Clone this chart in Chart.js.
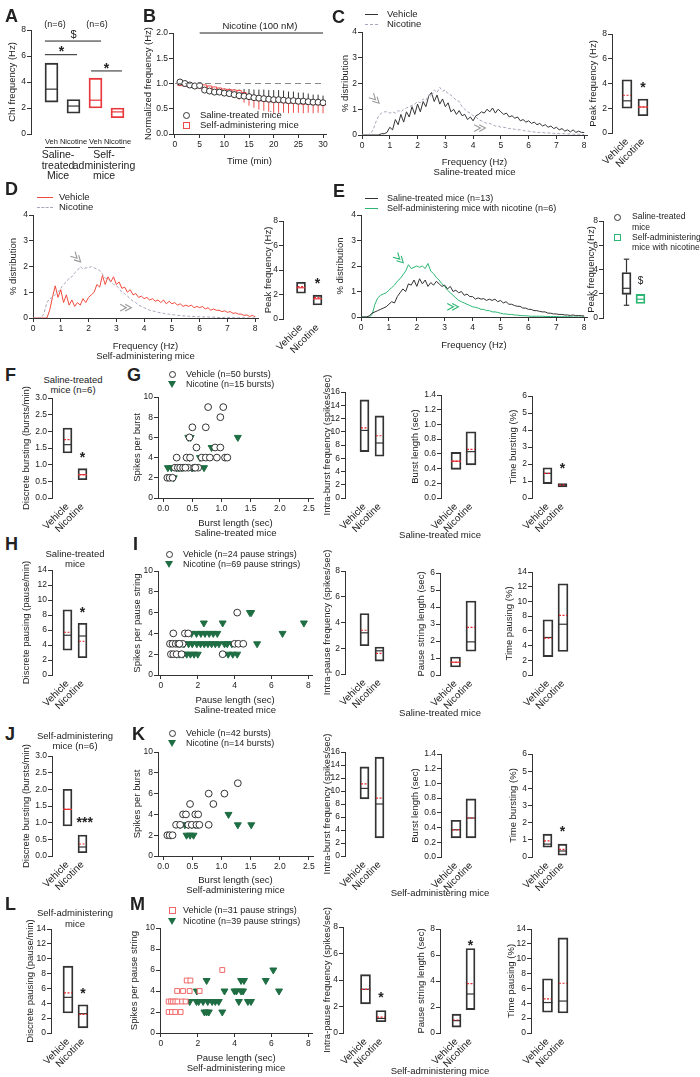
<!DOCTYPE html>
<html>
<head>
<meta charset="utf-8">
<script src="https://cdn.jsdelivr.net/npm/chart.js@4.4.1/dist/chart.umd.min.js"></script>
<style>
  body { margin: 0; background: #fff; }
  #page { position: relative; width: 700px; height: 1077px; overflow: hidden; font-family: "Liberation Sans", Arial, sans-serif; color: #222; }
  #page canvas { position: absolute; }
  .t { position: absolute; white-space: nowrap; }
</style>
</head>
<body>
<div id="page"></div>
<script>
// ---------- data ----------
const GROUPS = ['Vehicle', 'Nicotine'];

// A: ChI frequency
const A_LABELS = ['Veh', 'Nicotine', 'Veh', 'Nicotine'];
const A_LO = [2.45, 1.6, 2.0, 1.25];
const A_HI = [5.45, 2.65, 4.3, 2.0];
const A_MED = [3.45, 2.15, 2.6, 1.7];
const A_TICKS = [0, 2, 4, 6, 8];

// B: normalized frequency over time
const B_TIME = [1, 2, 3, 4, 5, 6, 7, 8, 9, 10, 11, 12, 13, 14, 15, 16, 17, 18, 19, 20, 21, 22, 23, 24, 25, 26, 27, 28, 29, 30];
const B_SAL = [1.03, 1.0, 0.97, 0.95, 0.96, 0.87, 0.85, 0.83, 0.83, 0.81, 0.8, 0.78, 0.76, 0.75, 0.74, 0.72, 0.71, 0.7, 0.69, 0.68, 0.68, 0.67, 0.66, 0.66, 0.65, 0.65, 0.64, 0.63, 0.63, 0.62];
const B_SAL_SEM = [0.02, 0.02, 0.03, 0.03, 0.04, 0.05, 0.06, 0.07, 0.08, 0.09, 0.1, 0.11, 0.12, 0.14, 0.15, 0.16, 0.17, 0.18, 0.18, 0.19, 0.19, 0.19, 0.18, 0.18, 0.17, 0.17, 0.16, 0.15, 0.15, 0.14];
const B_SELF = [1.0, 0.99, 0.97, 0.96, 0.95, 0.93, 0.91, 0.89, 0.87, 0.85, 0.84, 0.83, 0.82, 0.78, 0.74, 0.72, 0.7, 0.69, 0.68, 0.67, 0.67, 0.66, 0.65, 0.65, 0.64, 0.63, 0.63, 0.62, 0.62, 0.61];
const B_SELF_SEM = [0.02, 0.02, 0.03, 0.03, 0.04, 0.05, 0.06, 0.07, 0.08, 0.09, 0.1, 0.12, 0.14, 0.16, 0.18, 0.2, 0.22, 0.23, 0.24, 0.25, 0.25, 0.24, 0.24, 0.23, 0.22, 0.22, 0.21, 0.21, 0.2, 0.2];
const B_XTICKS = [0, 5, 10, 15, 20, 25, 30];
const B_YTICKS = [0, 0.5, 1.0, 1.5, 2.0];

// C/D/E: frequency distributions (% per 0.1 Hz bin)
const FREQ = [0, 0.1, 0.2, 0.3, 0.4, 0.5, 0.6, 0.7, 0.8, 0.9, 1, 1.1, 1.2, 1.3, 1.4, 1.5, 1.6, 1.7, 1.8, 1.9,
  2, 2.1, 2.2, 2.3, 2.4, 2.5, 2.6, 2.7, 2.8, 2.9, 3, 3.1, 3.2, 3.3, 3.4, 3.5, 3.6, 3.7, 3.8, 3.9,
  4, 4.1, 4.2, 4.3, 4.4, 4.5, 4.6, 4.7, 4.8, 4.9, 5, 5.1, 5.2, 5.3, 5.4, 5.5, 5.6, 5.7, 5.8, 5.9,
  6, 6.1, 6.2, 6.3, 6.4, 6.5, 6.6, 6.7, 6.8, 6.9, 7, 7.1, 7.2, 7.3, 7.4, 7.5, 7.6, 7.7, 7.8, 7.9, 8];
const C_VEH = [0, 0, 0, 0, 0, 0, 0, 0.05, 0.05, 0.1, 0.3, 0.2, 0.6, 0.4, 0.8, 0.5, 0.9, 0.7, 1.1, 0.8,
  1.2, 0.9, 1.3, 1.1, 1.5, 1.65, 1.3, 1.55, 1.2, 1.4, 1.1, 1.25, 0.9, 1.0, 0.8, 0.95, 0.75, 0.8, 0.6, 0.7,
  0.55, 0.75, 0.8, 0.9, 0.85, 1.0, 0.9, 1.05, 0.85, 1.0, 0.9, 0.8, 0.85, 0.7, 0.75, 0.65, 0.7, 0.55, 0.6, 0.5,
  0.55, 0.45, 0.5, 0.4, 0.45, 0.35, 0.4, 0.3, 0.35, 0.25, 0.3, 0.2, 0.25, 0.15, 0.2, 0.12, 0.2, 0.1, 0.15, 0.1, 0.1];
const C_NIC = [0, 0, 0, 0.05, 0.2, 0.5, 0.75, 0.85, 0.9, 0.9, 0.85, 0.9, 0.85, 0.95, 0.9, 1.0, 1.05, 1.1, 1.15, 1.2,
  1.3, 1.25, 1.4, 1.35, 1.55, 1.5, 1.75, 1.65, 1.85, 1.7, 1.75, 1.6, 1.55, 1.45, 1.35, 1.3, 1.1, 1.0, 0.9, 0.85,
  0.75, 0.7, 0.6, 0.55, 0.5, 0.45, 0.45, 0.4, 0.35, 0.35, 0.3, 0.3, 0.28, 0.25, 0.25, 0.22, 0.2, 0.2, 0.18, 0.15,
  0.15, 0.12, 0.12, 0.1, 0.1, 0.1, 0.08, 0.08, 0.08, 0.06, 0.06, 0.05, 0.05, 0.05, 0.04, 0.04, 0.03, 0.03, 0.03, 0.02, 0.02];
const D_VEH = [0, 0, 0, 0, 0, 0, 0.3, 0.8, 1.25, 0.8, 1.1, 0.6, 0.9, 0.5, 0.7, 0.45, 0.6, 0.5, 0.75, 0.6,
  0.8, 0.9, 1.0, 1.3, 1.2, 1.65, 1.3, 1.6, 1.4, 1.6, 1.3, 1.4, 1.15, 1.2, 1.0, 1.1, 0.9, 0.95, 0.8, 0.85,
  0.75, 0.8, 0.7, 0.75, 0.65, 0.7, 0.6, 0.7, 0.55, 0.65, 0.55, 0.6, 0.5, 0.55, 0.45, 0.5, 0.45, 0.5, 0.4, 0.45,
  0.4, 0.45, 0.35, 0.4, 0.3, 0.35, 0.3, 0.3, 0.25, 0.28, 0.22, 0.25, 0.18, 0.2, 0.15, 0.15, 0.1, 0.12, 0.06, 0.1, 0.05];
const D_NIC = [0, 0, 0, 0, 0.2, 0.6, 0.75, 0.8, 0.9, 1.0, 1.15, 1.3, 1.4, 1.55, 1.6, 1.75, 1.85, 2.0, 1.9, 1.95,
  1.95, 2.0, 1.95, 1.9, 1.85, 1.7, 1.55, 1.5, 1.4, 1.3, 1.25, 1.15, 1.0, 0.95, 0.85, 0.75, 0.65, 0.6, 0.5, 0.45,
  0.4, 0.35, 0.3, 0.28, 0.25, 0.22, 0.2, 0.18, 0.15, 0.15, 0.13, 0.12, 0.1, 0.1, 0.08, 0.08, 0.07, 0.06, 0.06, 0.05,
  0.05, 0.04, 0.04, 0.04, 0.03, 0.03, 0.03, 0.02, 0.02, 0.02, 0.02, 0.02, 0.01, 0.01, 0.01, 0.01, 0.01, 0, 0, 0, 0];
const E_SAL = [0, 0, 0, 0.05, 0.15, 0.2, 0.25, 0.3, 0.35, 0.4, 0.5, 0.6, 0.55, 0.8, 0.95, 1.1, 1.0, 1.3, 1.25, 1.45,
  1.2, 1.5, 1.3, 1.45, 1.2, 1.35, 1.25, 1.4, 1.3, 1.2, 1.25, 1.1, 1.2, 1.0, 1.05, 0.95, 1.0, 0.85, 0.9, 0.8,
  0.8, 0.7, 0.75, 0.7, 0.72, 0.65, 0.7, 0.65, 0.7, 0.6, 0.65, 0.55, 0.6, 0.5, 0.5, 0.45, 0.42, 0.42, 0.35, 0.35,
  0.3, 0.3, 0.25, 0.25, 0.22, 0.2, 0.2, 0.15, 0.15, 0.12, 0.12, 0.1, 0.1, 0.08, 0.08, 0.06, 0.08, 0.05, 0.06, 0.05, 0.04];
const E_NIC = [0, 0, 0, 0, 0.1, 0.5, 0.75, 0.85, 0.9, 0.95, 1.05, 1.15, 1.25, 1.4, 1.5, 1.65, 1.8, 2.05, 1.9, 1.95,
  2.0, 1.95, 2.0, 1.9, 2.1, 1.8, 1.7, 1.55, 1.45, 1.3, 1.2, 1.05, 0.95, 0.85, 0.75, 0.65, 0.6, 0.55, 0.5, 0.45,
  0.4, 0.38, 0.35, 0.3, 0.3, 0.25, 0.25, 0.2, 0.2, 0.18, 0.15, 0.12, 0.12, 0.1, 0.1, 0.08, 0.07, 0.06, 0.05, 0.05,
  0.04, 0.03, 0.03, 0.03, 0.03, 0.03, 0.02, 0.02, 0.02, 0.02, 0.02, 0.01, 0.01, 0.01, 0.01, 0.01, 0, 0, 0, 0, 0];
const DIST_XTICKS = [0, 1, 2, 3, 4, 5, 6, 7, 8];
const DIST_YTICKS = [0, 1, 2, 3, 4];

// peak frequency boxes (C, D, E)
const CP_LO = [2.0, 1.4], CP_HI = [4.3, 2.75], CP_MED = [2.6, 2.1], CP_MEAN = [3.05, 2.1];
const DP_LO = [2.1, 1.15], DP_HI = [3.0, 1.95], DP_MED = [2.55, 1.65], DP_MEAN = [2.65, 1.75];
const EP_LO = [1.95, 1.2], EP_HI = [3.75, 1.95], EP_MED = [2.45, 1.55], EP_WLO = [1.05], EP_WHI = [4.85];
const PEAK_TICKS = [0, 2, 4, 6, 8];

// F-G: bursting, saline-treated
const F_LO = [1.35, 0.55], F_HI = [2.1, 0.88], F_MED = [1.6, 0.7], F_MEAN = [1.75, 0.7];
const G_VEH_X = [0.07, 0.11, 0.16, 0.2, 0.25, 0.29, 0.34, 0.43, 0.53, 0.6, 0.23, 0.4, 0.46, 0.66, 0.73, 0.8, 0.92, 1.06, 1.1, 0.45, 0.57, 0.89, 0.98, 0.5, 0.73, 0.77, 0.98, 1.03, 0.38, 0.55];
const G_VEH_Y = [2, 2, 2, 3, 3, 3, 3, 3, 3, 3, 4, 4, 4, 4, 4, 4, 4, 4, 4, 6, 5, 5, 5, 7, 7, 9, 8, 9, 3, 3];
const G_NIC_X = [0.08, 0.14, 0.18, 0.23, 0.32, 0.45, 0.47, 0.49, 0.63, 0.7, 0.83, 1.28, 0.27, 0.43, 0.5];
const G_NIC_Y = [3, 3, 2, 3, 3, 4, 6, 3, 4, 3, 5, 6, 3, 6, 3];
const G2_LO = [7.0, 6.3], G2_HI = [14.8, 12.4], G2_MED = [10.2, 8.3], G2_MEAN = [10.6, 9.4];
const G3_LO = [0.39, 0.45], G3_HI = [0.62, 0.9], G3_MED = [0.5, 0.63], G3_MEAN = [0.5, 0.66];
const G4_LO = [0.85, 0.65], G4_HI = [1.78, 0.85], G4_MED = [1.45, 0.72], G4_MEAN = [1.45, 0.76];

// H-I: pausing, saline-treated
const H_LO = [3.3, 2.3], H_HI = [8.7, 6.9], H_MED = [5.3, 5.2], H_MEAN = [5.7, 4.5];
const I_VEH_X = [0.67, 1.3, 1.48, 0.49, 0.63, 0.8, 0.94, 1.18, 4.0, 4.2, 4.47, 0.54, 0.67, 0.85, 1.12, 3.35, 4.14, 1.0];
const I_VEH_Y = [4, 4, 4, 3, 3, 3, 3, 3, 3, 3, 3, 2, 2, 2, 2, 2, 6, 3];
const I_NIC_X = [1.66, 1.93, 2.17, 2.39, 2.62, 2.84, 3.06, 6.6, 1.03, 1.25, 1.5, 1.7, 1.95, 2.15, 2.35, 2.55, 2.75, 2.95, 3.15, 3.45, 3.6, 3.85, 5.22, 0.85, 1.0, 1.2, 1.4, 1.6, 1.8, 2.0, 3.65, 3.9, 4.14, 2.33, 3.35, 7.76, 4.83, 4.9];
const I_NIC_Y = [4, 4, 4, 4, 4, 4, 4, 4, 3, 3, 3, 3, 3, 3, 3, 3, 3, 3, 3, 3, 3, 3, 3, 2, 2, 2, 2, 2, 2, 2, 2, 2, 2, 5, 5, 5, 6, 6];
const I2_LO = [2.2, 1.0], I2_HI = [4.7, 2.1], I2_MED = [3.2, 1.8], I2_MEAN = [3.4, 1.6];
const I3_LO = [0.47, 1.4], I3_HI = [1.06, 4.35], I3_MED = [0.75, 1.95], I3_MEAN = [0.75, 2.8];
const I4_LO = [2.5, 3.2], I4_HI = [7.5, 12.4], I4_MED = [5.1, 6.9], I4_MEAN = [5.0, 8.1];

// J-K: bursting, self-administering
const J_LO = [0.9, 0.1], J_HI = [2.0, 0.63], J_MED = [1.4, 0.27], J_MEAN = [1.4, 0.36];
const K_VEH_X = [0.07, 0.11, 0.16, 0.22, 0.29, 0.34, 0.39, 0.46, 0.43, 0.49, 0.57, 0.62, 0.55, 0.6, 0.78, 0.78, 0.86, 1.05, 1.28];
const K_VEH_Y = [2, 2, 2, 3, 3, 4, 4, 5, 3, 3, 3, 3, 4, 4, 3, 6, 5, 6, 7];
const K_NIC_X = [0.13, 0.29, 0.37, 0.43, 0.49, 0.55, 0.6, 0.4, 0.46, 0.52, 1.12, 1.28, 1.51];
const K_NIC_Y = [2, 3, 3, 3, 3, 3, 3, 2, 2, 2, 4, 3, 3];
const K2_LO = [8.8, 2.8], K2_HI = [13.7, 15.2], K2_MED = [10.4, 8.0], K2_MEAN = [11.1, 8.9];
const K3_LO = [0.26, 0.26], K3_HI = [0.5, 0.79], K3_MED = [0.37, 0.53], K3_MEAN = [0.37, 0.53];
const K4_LO = [0.57, 0.1], K4_HI = [1.33, 0.75], K4_MED = [0.75, 0.35], K4_MEAN = [0.94, 0.45];

// L-M: pausing, self-administering
const L_LO = [2.7, 0.7], L_HI = [9.0, 3.8], L_MED = [4.8, 2.6], L_MEAN = [5.4, 2.5];
const M_VEH_X = [0.42, 0.6, 0.78, 1.07, 0.42, 0.55, 0.66, 0.78, 0.9, 1.15, 1.34, 0.88, 1.2, 1.56, 2.1, 1.4, 1.6, 3.33];
const M_VEH_Y = [2, 2, 2, 2, 3, 3, 3, 3, 3, 3, 3, 4, 4, 4, 4, 5, 5, 6];
const M_NIC_X = [1.56, 1.93, 2.05, 2.29, 2.54, 2.78, 2.95, 3.14, 4.23, 4.72, 4.89, 1.95, 3.45, 3.99, 4.1, 4.35, 4.46, 6.41, 2.36, 2.48, 2.6, 3.33, 2.48, 4.35, 4.51, 5.69, 6.1];
const M_NIC_Y = [3, 3, 3, 3, 3, 3, 3, 3, 3, 3, 3, 4, 4, 4, 4, 4, 4, 4, 2, 2, 2, 2, 5, 5, 5, 5, 6];
const M2_LO = [2.2, 0.85], M2_HI = [4.4, 1.7], M2_MED = [3.3, 1.1], M2_MEAN = [3.3, 1.2];
const M3_LO = [0.45, 1.8], M3_HI = [1.45, 6.5], M3_MED = [0.95, 3.0], M3_MEAN = [1.0, 3.8];
const M4_LO = [2.8, 2.7], M4_HI = [7.3, 12.8], M4_MED = [4.1, 4.3], M4_MEAN = [4.6, 6.7];

// tick sets
const T_BURST = [0, 0.5, 1.0, 1.5, 2.0, 2.5, 3.0];
const T_14 = [0, 2, 4, 6, 8, 10, 12, 14];
const T_16 = [0, 2, 4, 6, 8, 10, 12, 14, 16];
const T_10 = [0, 2, 4, 6, 8, 10];
const T_8 = [0, 2, 4, 6, 8];
const T_6 = [0, 1, 2, 3, 4, 5, 6];
const T_14DEC = [0, 0.2, 0.4, 0.6, 0.8, 1.0, 1.2, 1.4];
const T_BLEN = [0.0, 0.5, 1.0, 1.5, 2.0, 2.5];

// ---------- styles ----------
const FONT = '"Liberation Sans", Arial, sans-serif';
const INK = '#333';
const RED = '#e8383d';
const MEANRED = '#e8262b';
const GRAY = '#a6a6bc';
const GREEN = '#2bb673';
const DKGREEN = '#1f6e43';
const TICK_FS = 8.5, TITLE_FS = 9.5, TITLE_LH = 11;

Chart.defaults.font.family = FONT;
Chart.defaults.color = '#222';

const page = document.getElementById('page');

// median / mean / whisker lines on floating bars
const boxLines = {
  id: 'boxLines',
  afterDatasetsDraw(chart, args, o) {
    if (!o || !o.med) return;
    const ctx = chart.ctx, ys = chart.scales.y;
    const els = chart.getDatasetMeta(0).data;
    const seg = (x1, x2, y1, y2, c, dash, w) => {
      ctx.strokeStyle = c; ctx.lineWidth = w || 1.2; ctx.setLineDash(dash || []);
      ctx.beginPath(); ctx.moveTo(x1, y1); ctx.lineTo(x2, y2); ctx.stroke();
    };
    ctx.save();
    els.forEach((el, i) => {
      const hw = el.width / 2;
      if (o.whLo && o.whLo[i] != null) {
        const yl = ys.getPixelForValue(o.whLo[i]), yh = ys.getPixelForValue(o.whHi[i]);
        const ylo = ys.getPixelForValue(o.lo[i]), yhi = ys.getPixelForValue(o.hi[i]);
        seg(el.x, el.x, ylo, yl, INK); seg(el.x, el.x, yhi, yh, INK);
        seg(el.x - hw * 0.6, el.x + hw * 0.6, yl, yl, INK);
        seg(el.x - hw * 0.6, el.x + hw * 0.6, yh, yh, INK);
      }
      const ym = ys.getPixelForValue(o.med[i]);
      seg(el.x - hw, el.x + hw, ym, ym, (o.medCols && o.medCols[i]) || INK);
      if (o.mean) {
        const yb = ys.getPixelForValue(o.mean[i]);
        seg(el.x - hw + 1, el.x + hw - 1, yb, yb, MEANRED, [2, 1.5], 1.2);
      }
    });
    ctx.restore();
  }
};

// text, lines and arrow marks placed in data units
function chevron(ctx, x, y, ang, c) {
  const a = ang * Math.PI / 180, L = 7, sp = 0.5;
  ctx.strokeStyle = c; ctx.lineWidth = 1.1; ctx.setLineDash([]);
  [-2.5, 2.5].forEach(off => {
    const tx = x + Math.cos(a) * off, ty = y + Math.sin(a) * off;
    ctx.beginPath();
    ctx.moveTo(tx - Math.cos(a - sp) * L, ty - Math.sin(a - sp) * L);
    ctx.lineTo(tx, ty);
    ctx.lineTo(tx - Math.cos(a + sp) * L, ty - Math.sin(a + sp) * L);
    ctx.stroke();
  });
}
const notes = {
  id: 'notes',
  afterDraw(chart, args, o) {
    if (!o || !o.items) return;
    const {ctx} = chart, xs = chart.scales.x, ys = chart.scales.y;
    ctx.save();
    o.items.forEach(it => {
      const c = it.c || '#222';
      if (it.k === 'line') {
        const y = ys.getPixelForValue(it.y);
        ctx.strokeStyle = c; ctx.lineWidth = 1; ctx.setLineDash([]);
        ctx.beginPath(); ctx.moveTo(xs.getPixelForValue(it.x1), y); ctx.lineTo(xs.getPixelForValue(it.x2), y); ctx.stroke();
      } else if (it.k === 'text') {
        const size = it.size || 9;
        ctx.font = (it.bold ? 'bold ' : '') + size + 'px ' + FONT;
        ctx.fillStyle = c; ctx.textAlign = 'center'; ctx.textBaseline = 'middle';
        const shift = it.s.indexOf('*') >= 0 ? size * 0.28 : 0;
        ctx.fillText(it.s, xs.getPixelForValue(it.x), ys.getPixelForValue(it.y) + (it.dy || 0) + shift);
      } else if (it.k === 'chev') {
        chevron(ctx, xs.getPixelForValue(it.x), ys.getPixelForValue(it.y), it.a, c);
      }
    });
    ctx.restore();
  }
};

// error bars (one direction) for panel B
const errBars = {
  id: 'errBars',
  beforeDatasetsDraw(chart, args, o) {
    if (!o || !o.sets) return;
    const {ctx} = chart, ys = chart.scales.y;
    ctx.save();
    o.sets.forEach(s => {
      const ds = chart.data.datasets[s.ds];
      chart.getDatasetMeta(s.ds).data.forEach((pt, i) => {
        const y2 = ys.getPixelForValue(ds.data[i].y + s.dir * s.sem[i]);
        ctx.strokeStyle = s.c; ctx.lineWidth = 1;
        ctx.beginPath(); ctx.moveTo(pt.x, pt.y); ctx.lineTo(pt.x, y2); ctx.stroke();
      });
    });
    ctx.restore();
  }
};
Chart.register(boxLines, notes, errBars);

// ---------- layout helpers ----------
// l,t,r,b: chart area on the page; tx: centre of the y title; cb: canvas bottom
function frame(l, t, r, b, tx, cb, pt) {
  pt = pt || 30;
  const cl = Math.round(tx - TITLE_LH / 2);
  const ct = t - pt, pr = 8;
  const cv = document.createElement('canvas');
  cv.width = r - cl + pr; cv.height = cb - ct;
  cv.style.left = cl + 'px'; cv.style.top = ct + 'px';
  cv.style.width = cv.width + 'px'; cv.style.height = cv.height + 'px';
  page.appendChild(cv);
  return {cv, l, r, wy: l - cl, hx: cb - b, pad: {top: pt, right: pr, bottom: 0, left: 0}};
}

function yAxis(f, min, max, ticks, dec, title) {
  return {
    type: 'linear', min, max,
    afterBuildTicks: s => { s.ticks = ticks.map(v => ({value: v})); },
    afterFit: s => { s.width = f.wy; },
    ticks: {font: {size: TICK_FS}, padding: 1, color: '#222', autoSkip: false, callback: v => v.toFixed(dec)},
    grid: {display: true, drawOnChartArea: false, drawTicks: true, tickLength: 4, color: INK},
    border: {display: true, color: INK, width: 1},
    title: {display: !!title, text: title, font: {size: TITLE_FS, lineHeight: TITLE_LH / TITLE_FS}, padding: 0, color: '#222'}
  };
}

function xAxis(f, min, max, ticks, dec, title) {
  return {
    type: 'linear', min, max, offset: false,
    afterBuildTicks: s => { s.ticks = ticks.map(v => ({value: v})); },
    afterFit: s => { s.height = f.hx; },
    ticks: {font: {size: TICK_FS}, padding: 2, color: '#222', autoSkip: false, maxRotation: 0, callback: v => v.toFixed(dec)},
    grid: {display: true, drawOnChartArea: false, drawTicks: true, tickLength: 4, color: INK},
    border: {display: true, color: INK, width: 1},
    title: {display: !!title, text: title, font: {size: TITLE_FS, lineHeight: 10 / TITLE_FS}, padding: 0, color: '#222'}
  };
}

function baseOpts(f, scales, plugins) {
  return {
    responsive: false, animation: false, events: [],
    layout: {padding: f.pad},
    scales,
    plugins: Object.assign({legend: {display: false}, tooltip: {enabled: false}}, plugins)
  };
}

function boxPlot(f, o) {
  const n = o.lo.length;
  const unit = o.centers[1] - o.centers[0];
  const cLast = o.centers[0] + (n - 1) * unit;
  const xMin = 1 - (o.centers[0] - f.l) / unit;
  const xMax = n + (f.r - cLast) / unit;
  const labels = o.labels || [];
  const rot = o.rot == null ? 45 : o.rot;
  const xs = {
    type: 'linear', min: xMin, max: xMax, offset: false,
    afterBuildTicks: s => { s.ticks = labels.map((_, i) => ({value: i + 1})); },
    afterFit: s => { s.height = f.hx; },
    ticks: {display: labels.length > 0, font: {size: o.lfs || 10}, color: '#222', autoSkip: false,
      minRotation: rot, maxRotation: rot, padding: o.lpad || 3, callback: (v, i) => labels[i]},
    grid: {display: false, drawTicks: false},
    border: {display: false}
  };
  new Chart(f.cv, {
    type: 'bar',
    data: {datasets: [{
      data: o.lo.map((v, i) => ({x: i + 1, y: [v, o.hi[i]]})),
      backgroundColor: 'rgba(0,0,0,0)',
      borderColor: o.cols || INK,
      borderWidth: 1.2,
      borderSkipped: false,
      barThickness: o.bw
    }]},
    options: baseOpts(f, {x: xs, y: yAxis(f, o.yMin || 0, o.yMax, o.yTicks, o.dec, o.title)}, {
      boxLines: {lo: o.lo, hi: o.hi, med: o.med, mean: o.mean, medCols: o.medCols, whLo: o.whLo, whHi: o.whHi},
      notes: {items: o.notes || []}
    })
  });
}

const ST_CIRCLE = {pointStyle: 'circle', pointRadius: 3.4, pointBorderColor: INK, pointBackgroundColor: '#fff', pointBorderWidth: 1};
const ST_TRI = {pointStyle: 'triangle', pointRotation: 180, pointRadius: 4, pointBorderColor: DKGREEN, pointBackgroundColor: DKGREEN, pointBorderWidth: 1};
const ST_SQ = {pointStyle: 'rect', pointRadius: 3.4, pointBorderColor: '#f0686a', pointBackgroundColor: '#fff', pointBorderWidth: 1};

function scatterPlot(f, o) {
  new Chart(f.cv, {
    type: 'scatter',
    data: {datasets: o.sets.map(s => Object.assign({data: s.xs.map((x, i) => ({x, y: s.ys[i]}))}, s.st))},
    options: baseOpts(f, {
      x: xAxis(f, o.xMin, o.xMax, o.xTicks, o.xDec, o.xTitle),
      y: yAxis(f, 0, o.yMax, o.yTicks, 0, o.yTitle)
    }, {})
  });
}

function distPlot(f, o) {
  new Chart(f.cv, {
    type: 'line',
    data: {datasets: o.series.map(s => ({
      data: FREQ.map((x, i) => ({x, y: s.v[i]})),
      borderColor: s.c, borderWidth: 1, borderDash: s.dash || [], pointRadius: 0, tension: 0
    }))},
    options: baseOpts(f, {
      x: xAxis(f, 0, 8.1, DIST_XTICKS, 0, o.xTitle),
      y: yAxis(f, 0, 4, DIST_YTICKS, 0, '% distribution')
    }, {notes: {items: o.notes}})
  });
}

// HTML text helpers
function txt(x, y, html, o) {
  o = o || {};
  const d = document.createElement('div');
  d.className = 't';
  d.innerHTML = html;
  const fs = o.fs || 9;
  d.style.fontSize = fs + 'px';
  d.style.lineHeight = (o.lh || fs) + 'px';
  if (o.bold) d.style.fontWeight = 'bold';
  d.style.left = x + 'px'; d.style.top = y + 'px';
  d.style.textAlign = o.center ? 'center' : 'left';
  d.style.transform = 'translate(' + (o.center ? '-50%' : '0') + ',-50%)';
  page.appendChild(d);
}
function letter(x, y, s) { txt(x, y, s, {fs: 18, bold: true}); }
function sym(kind, x, y, c) {
  const d = document.createElement('div');
  d.style.position = 'absolute';
  if (kind === 'o') d.style.cssText += `left:${x - 3.5}px;top:${y - 3.5}px;width:5px;height:5px;border:1px solid ${c};border-radius:50%;`;
  if (kind === 's') d.style.cssText += `left:${x - 3.5}px;top:${y - 3.5}px;width:5px;height:5px;border:1px solid ${c};`;
  if (kind === 'v') d.style.cssText += `left:${x - 4}px;top:${y - 3}px;width:0;height:0;border-left:4px solid transparent;border-right:4px solid transparent;border-top:7px solid ${c};`;
  page.appendChild(d);
}
function hseg(x1, x2, y, c, dashed) {
  const d = document.createElement('div');
  d.style.cssText = `position:absolute;left:${x1}px;top:${y}px;width:${x2 - x1}px;height:0;border-top:1px ${dashed ? 'dashed' : 'solid'} ${c};`;
  page.appendChild(d);
}

// ---------- A ----------
boxPlot(frame(31, 30, 128, 134, 12, 148, 20), {
  lo: A_LO, hi: A_HI, med: A_MED, cols: [INK, INK, RED, RED], medCols: [INK, INK, RED, RED],
  centers: [51.5, 73.5], bw: 13, yMax: 8, yTicks: A_TICKS, dec: 0, title: 'ChI frequency (Hz)',
  labels: A_LABELS, rot: 0, lfs: 7.5, lpad: 3,
  notes: [
    {k: 'line', x1: 0.7, x2: 3.25, y: 7.15}, {k: 'text', x: 2.0, y: 7.15, dy: -6, s: '$', size: 11},
    {k: 'line', x1: 0.7, x2: 2.16, y: 6.1}, {k: 'text', x: 1.45, y: 6.1, dy: -6, s: '*', size: 14, bold: true},
    {k: 'line', x1: 2.8, x2: 4.2, y: 4.85}, {k: 'text', x: 3.5, y: 4.85, dy: -6, s: '*', size: 14, bold: true}
  ]
});
txt(55, 24, '(n=6)', {fs: 9, center: true});
txt(97, 24, '(n=6)', {fs: 9, center: true});
hseg(45, 80, 147, INK); hseg(88, 125, 147, INK);
txt(58, 165, 'Saline-<br>treated<br>Mice', {fs: 10.5, lh: 10.5, center: true});
txt(104, 165, 'Self-<br>administering<br>mice', {fs: 10.5, lh: 10.5, center: true});

// ---------- B ----------
(function () {
  const f = frame(173, 33, 326, 134, 148, 166, 20);
  new Chart(f.cv, {
    type: 'scatter',
    data: {datasets: [
      {data: [{x: 0, y: 1}, {x: 30, y: 1}], showLine: true, borderColor: '#888', borderWidth: 1, borderDash: [6, 4], pointRadius: 0},
      Object.assign({data: B_TIME.map((t, i) => ({x: t, y: B_SAL[i]}))}, ST_CIRCLE, {pointRadius: 3}),
      Object.assign({data: B_TIME.map((t, i) => ({x: t, y: B_SELF[i]}))}, ST_SQ, {pointRadius: 3, pointBorderColor: '#ef4b4b'})
    ]},
    options: baseOpts(f, {
      x: xAxis(f, -0.4, 30.6, B_XTICKS, 0, 'Time (min)'),
      y: yAxis(f, 0, 2, B_YTICKS, 1, 'Normalized frequency (Hz)')
    }, {
      errBars: {sets: [{ds: 1, sem: B_SAL_SEM, dir: 1, c: INK}, {ds: 2, sem: B_SELF_SEM, dir: -1, c: '#ef4b4b'}]},
      notes: {items: [{k: 'line', x1: 5, x2: 30, y: 2.0}, {k: 'text', x: 17.2, y: 2.0, dy: -7, s: 'Nicotine (100 nM)', size: 9.5}]}
    })
  });
})();
sym('o', 186, 115, INK); txt(200, 115, 'Saline-treated mice', {fs: 9.5});
sym('s', 186, 125, '#ef4b4b'); txt(200, 125, 'Self-administering mice', {fs: 9.5});

// ---------- C ----------
distPlot(frame(362, 32, 587, 135, 345, 177, 20), {
  series: [{v: C_NIC, c: GRAY, dash: [3, 2]}, {v: C_VEH, c: INK}],
  xTitle: ['Frequency (Hz)', 'Saline-treated mice'],
  notes: [{k: 'chev', x: 0.55, y: 1.3, a: 45, c: '#999'}, {k: 'chev', x: 4.35, y: 0.27, a: 0, c: '#999'}]
});
hseg(365, 378, 14, INK); txt(387, 14, 'Vehicle', {fs: 9.5});
hseg(365, 378, 24, GRAY, true); txt(387, 24, 'Nicotine', {fs: 9.5});
boxPlot(frame(612, 34, 655, 133, 593, 183, 20), {
  lo: CP_LO, hi: CP_HI, med: CP_MED, mean: CP_MEAN, medCols: [INK, RED],
  centers: [627, 643], bw: 10, yMax: 8, yTicks: PEAK_TICKS, dec: 0, title: 'Peak frequency (Hz)', labels: GROUPS,
  notes: [{k: 'text', x: 2, y: 3.95, s: '*', size: 14, bold: true}]
});

// ---------- D ----------
distPlot(frame(33, 215, 258, 318, 13, 361), {
  series: [{v: D_NIC, c: GRAY, dash: [3, 2]}, {v: D_VEH, c: '#f04a3c'}],
  xTitle: ['Frequency (Hz)', 'Self-administering mice'],
  notes: [{k: 'chev', x: 1.65, y: 2.25, a: 45, c: '#999'}, {k: 'chev', x: 3.45, y: 0.4, a: 0, c: '#999'}]
});
hseg(37, 53, 197, '#f04a3c'); txt(59, 197, 'Vehicle', {fs: 9.5});
hseg(37, 53, 207, GRAY, true); txt(59, 207, 'Nicotine', {fs: 9.5});
boxPlot(frame(283, 221, 326, 319, 268, 369), {
  lo: DP_LO, hi: DP_HI, med: DP_MED, mean: DP_MEAN, medCols: [RED, RED],
  centers: [301, 317.5], bw: 9, yMax: 8, yTicks: PEAK_TICKS, dec: 0, title: 'Peak frequency (Hz)', labels: GROUPS,
  notes: [{k: 'text', x: 2, y: 3.2, s: '*', size: 14, bold: true}]
});

// ---------- E ----------
distPlot(frame(361, 215, 587, 317, 340, 350), {
  series: [{v: E_SAL, c: INK}, {v: E_NIC, c: GREEN}],
  xTitle: 'Frequency (Hz)',
  notes: [{k: 'chev', x: 1.45, y: 2.2, a: 45, c: GREEN}, {k: 'chev', x: 3.4, y: 0.4, a: 0, c: GREEN}]
});
hseg(365, 378, 198, INK); txt(387, 198, 'Saline-treated mice (n=13)', {fs: 9});
hseg(365, 378, 208, GREEN); txt(387, 208, 'Self-administering mice with nicotine (n=6)', {fs: 9});
boxPlot(frame(603, 221, 650, 318, 591, 330), {
  lo: EP_LO, hi: EP_HI, med: EP_MED, whLo: EP_WLO, whHi: EP_WHI, cols: [INK, GREEN], medCols: [INK, GREEN],
  centers: [626.5, 640.5], bw: 9, yMax: 8, yTicks: PEAK_TICKS, dec: 0, title: 'Peak frequency (Hz)', labels: [],
  notes: [{k: 'text', x: 2, y: 3.0, s: '$', size: 10}]
});
sym('o', 617, 217, INK); txt(632, 222, 'Saline-treated<br>mice', {fs: 8.6, lh: 11});
sym('s', 617, 237, GREEN); txt(632, 242, 'Self-administering<br>mice with nicotine', {fs: 8.6, lh: 10});

// ---------- F / G ----------
letter(5, 375, 'F'); letter(127, 375, 'G');
txt(73, 385, 'Saline-treated<br>mice (n=6)', {fs: 9.5, lh: 10, center: true});
boxPlot(frame(52, 398, 92, 498, 26, 548), {
  lo: F_LO, hi: F_HI, med: F_MED, mean: F_MEAN, medCols: [INK, RED],
  centers: [67.5, 82.5], bw: 9, yMax: 3, yTicks: T_BURST, dec: 1, title: 'Discrete bursting (bursts/min)', labels: GROUPS,
  notes: [{k: 'text', x: 2, y: 1.3, s: '*', size: 14, bold: true}]
});
scatterPlot(frame(158, 397, 313, 498, 137, 538), {
  sets: [{xs: G_VEH_X, ys: G_VEH_Y, st: ST_CIRCLE}, {xs: G_NIC_X, ys: G_NIC_Y, st: ST_TRI}],
  xMin: -0.09, xMax: 2.57, xTicks: T_BLEN, xDec: 1, xTitle: ['Burst length (sec)', 'Saline-treated mice'],
  yMax: 10, yTicks: T_10, yTitle: 'Spikes per burst'
});
sym('o', 172, 374, INK); txt(186, 374, 'Vehicle (n=50 bursts)', {fs: 9});
sym('v', 172, 384, DKGREEN); txt(186, 384, 'Nicotine (n=15 bursts)', {fs: 9});
boxPlot(frame(345, 392, 390, 498, 327, 548), {
  lo: G2_LO, hi: G2_HI, med: G2_MED, mean: G2_MEAN,
  centers: [364.5, 379.5], bw: 9, yMax: 16, yTicks: T_16, dec: 0, title: 'Intra-burst frequency (spikes/sec)', labels: GROUPS
});
boxPlot(frame(441, 395, 482, 498, 415, 548), {
  lo: G3_LO, hi: G3_HI, med: G3_MED, mean: G3_MEAN, medCols: [RED, INK],
  centers: [456, 471], bw: 10, yMax: 1.4, yTicks: T_14DEC, dec: 1, title: 'Burst length (sec)', labels: GROUPS
});
boxPlot(frame(532, 396, 573, 498, 513, 548), {
  lo: G4_LO, hi: G4_HI, med: G4_MED, mean: G4_MEAN,
  centers: [547.5, 562.5], bw: 9, yMax: 6, yTicks: T_6, dec: 0, title: 'Time bursting (%)', labels: GROUPS,
  notes: [{k: 'text', x: 2, y: 1.9, s: '*', size: 14, bold: true}]
});
txt(440, 535, 'Saline-treated mice', {fs: 9.5, center: true});

// ---------- H / I ----------
letter(5, 544, 'H'); letter(133, 544, 'I');
txt(75, 559, 'Saline-treated<br>mice', {fs: 9.5, lh: 10, center: true});
boxPlot(frame(52, 570, 92, 675, 26, 725), {
  lo: H_LO, hi: H_HI, med: H_MED, mean: H_MEAN,
  centers: [67.5, 82.5], bw: 9, yMax: 14, yTicks: T_14, dec: 0, title: 'Discrete pausing (pause/min)', labels: GROUPS,
  notes: [{k: 'text', x: 2, y: 8.8, s: '*', size: 14, bold: true}]
});
scatterPlot(frame(158, 571, 312, 675, 137, 715), {
  sets: [{xs: I_VEH_X, ys: I_VEH_Y, st: ST_CIRCLE}, {xs: I_NIC_X, ys: I_NIC_Y, st: ST_TRI}],
  xMin: -0.16, xMax: 8.2, xTicks: T_8, xDec: 0, xTitle: ['Pause length (sec)', 'Saline-treated mice'],
  yMax: 10, yTicks: T_10, yTitle: 'Spikes per pause string'
});
sym('o', 169, 554, INK); txt(183, 554, 'Vehicle (n=24 pause strings)', {fs: 9});
sym('v', 169, 564, DKGREEN); txt(183, 564, 'Nicotine (n=69 pause strings)', {fs: 9});
boxPlot(frame(345, 571, 390, 674, 327, 724), {
  lo: I2_LO, hi: I2_HI, med: I2_MED, mean: I2_MEAN,
  centers: [364.5, 379.5], bw: 9, yMax: 8, yTicks: T_8, dec: 0, title: 'Intra-pause frequency (spikes/sec)', labels: GROUPS
});
boxPlot(frame(440, 573, 482, 675, 421, 725), {
  lo: I3_LO, hi: I3_HI, med: I3_MED, mean: I3_MEAN, medCols: [RED, INK],
  centers: [455.5, 471], bw: 10, yMax: 6, yTicks: T_6, dec: 0, title: 'Pause string length (sec)', labels: GROUPS
});
boxPlot(frame(532, 572, 573, 675, 509, 725), {
  lo: I4_LO, hi: I4_HI, med: I4_MED, mean: I4_MEAN,
  centers: [548, 563], bw: 10, yMax: 14, yTicks: T_14, dec: 0, title: 'Time pausing (%)', labels: GROUPS
});
txt(440, 713, 'Saline-treated mice', {fs: 9.5, center: true});

// ---------- J / K ----------
letter(5, 734, 'J'); letter(132, 734, 'K');
txt(75, 741, 'Self-administering<br>mice (n=6)', {fs: 9.5, lh: 10, center: true});
boxPlot(frame(52, 756, 92, 856, 26, 906), {
  lo: J_LO, hi: J_HI, med: J_MED, mean: J_MEAN, medCols: [RED, INK],
  centers: [67.5, 82.5], bw: 9, yMax: 3, yTicks: T_BURST, dec: 1, title: 'Discrete bursting (bursts/min)', labels: GROUPS,
  notes: [{k: 'text', x: 2.15, y: 1.1, s: '***', size: 14, bold: true}]
});
scatterPlot(frame(158, 752, 313, 856, 137, 895), {
  sets: [{xs: K_VEH_X, ys: K_VEH_Y, st: ST_CIRCLE}, {xs: K_NIC_X, ys: K_NIC_Y, st: ST_TRI}],
  xMin: -0.09, xMax: 2.57, xTicks: T_BLEN, xDec: 1, xTitle: ['Burst length (sec)', 'Self-administering mice'],
  yMax: 10, yTicks: T_10, yTitle: 'Spikes per burst'
});
sym('o', 172, 733, INK); txt(186, 733, 'Vehicle (n=42 bursts)', {fs: 9});
sym('v', 172, 743, DKGREEN); txt(186, 743, 'Nicotine (n=14 bursts)', {fs: 9});
boxPlot(frame(345, 752, 390, 856, 327, 906), {
  lo: K2_LO, hi: K2_HI, med: K2_MED, mean: K2_MEAN,
  centers: [364.5, 379.5], bw: 9, yMax: 16, yTicks: T_16, dec: 0, title: 'Intra-burst frequency (spikes/sec)', labels: GROUPS
});
boxPlot(frame(441, 754, 482, 857, 415, 907), {
  lo: K3_LO, hi: K3_HI, med: K3_MED, mean: K3_MEAN,
  centers: [456, 471], bw: 10, yMax: 1.4, yTicks: T_14DEC, dec: 1, title: 'Burst length (sec)', labels: GROUPS
});
boxPlot(frame(532, 754, 573, 857, 513, 907), {
  lo: K4_LO, hi: K4_HI, med: K4_MED, mean: K4_MEAN,
  centers: [547.5, 562.5], bw: 9, yMax: 6, yTicks: T_6, dec: 0, title: 'Time bursting (%)', labels: GROUPS,
  notes: [{k: 'text', x: 2, y: 1.65, s: '*', size: 14, bold: true}]
});
txt(440, 893, 'Self-administering mice', {fs: 9.5, center: true});

// ---------- L / M ----------
letter(5, 904, 'L'); letter(130, 904, 'M');
txt(75, 918, 'Self-administering<br>mice', {fs: 9.5, lh: 11, center: true});
boxPlot(frame(51, 929, 92, 1033, 30, 1077), {
  lo: L_LO, hi: L_HI, med: L_MED, mean: L_MEAN,
  centers: [68, 83], bw: 10, yMax: 14, yTicks: T_14, dec: 0, title: 'Discrete pausing (pause/min)', labels: GROUPS,
  notes: [{k: 'text', x: 2, y: 5.8, s: '*', size: 14, bold: true}]
});
scatterPlot(frame(160, 928, 312, 1033, 134, 1073), {
  sets: [{xs: M_VEH_X, ys: M_VEH_Y, st: ST_SQ}, {xs: M_NIC_X, ys: M_NIC_Y, st: ST_TRI}],
  xMin: -0.05, xMax: 8.2, xTicks: T_8, xDec: 0, xTitle: ['Pause length (sec)', 'Self-administering mice'],
  yMax: 10, yTicks: T_10, yTitle: 'Spikes per pause string'
});
sym('s', 172, 910, '#f0686a'); txt(183, 910, 'Vehicle (n=31 pause strings)', {fs: 9});
sym('v', 172, 921, DKGREEN); txt(183, 921, 'Nicotine (n=39 pause strings)', {fs: 9});
boxPlot(frame(343, 927, 390, 1033, 327, 1077), {
  lo: M2_LO, hi: M2_HI, med: M2_MED, mean: M2_MEAN,
  centers: [365.5, 381], bw: 10, yMax: 8, yTicks: T_8, dec: 0, title: 'Intra-pause frequency (spikes/sec)', labels: GROUPS,
  notes: [{k: 'text', x: 2, y: 2.9, s: '*', size: 14, bold: true}]
});
boxPlot(frame(440, 929, 482, 1033, 421, 1077), {
  lo: M3_LO, hi: M3_HI, med: M3_MED, mean: M3_MEAN,
  centers: [456.5, 470.5], bw: 9, yMax: 8, yTicks: T_8, dec: 0, title: 'Pause string length (sec)', labels: GROUPS,
  notes: [{k: 'text', x: 2, y: 7.0, s: '*', size: 14, bold: true}]
});
boxPlot(frame(531, 929, 573, 1033, 511, 1077), {
  lo: M4_LO, hi: M4_HI, med: M4_MED, mean: M4_MEAN,
  centers: [547.5, 563], bw: 10, yMax: 14, yTicks: T_14, dec: 0, title: 'Time pausing (%)', labels: GROUPS
});
txt(440, 1071, 'Self-administering mice', {fs: 9.5, center: true});

// panel letters for the top rows
letter(5, 16, 'A'); letter(143, 16, 'B'); letter(332, 17, 'C');
letter(5, 189, 'D'); letter(333, 191, 'E');
</script>
</body>
</html>
